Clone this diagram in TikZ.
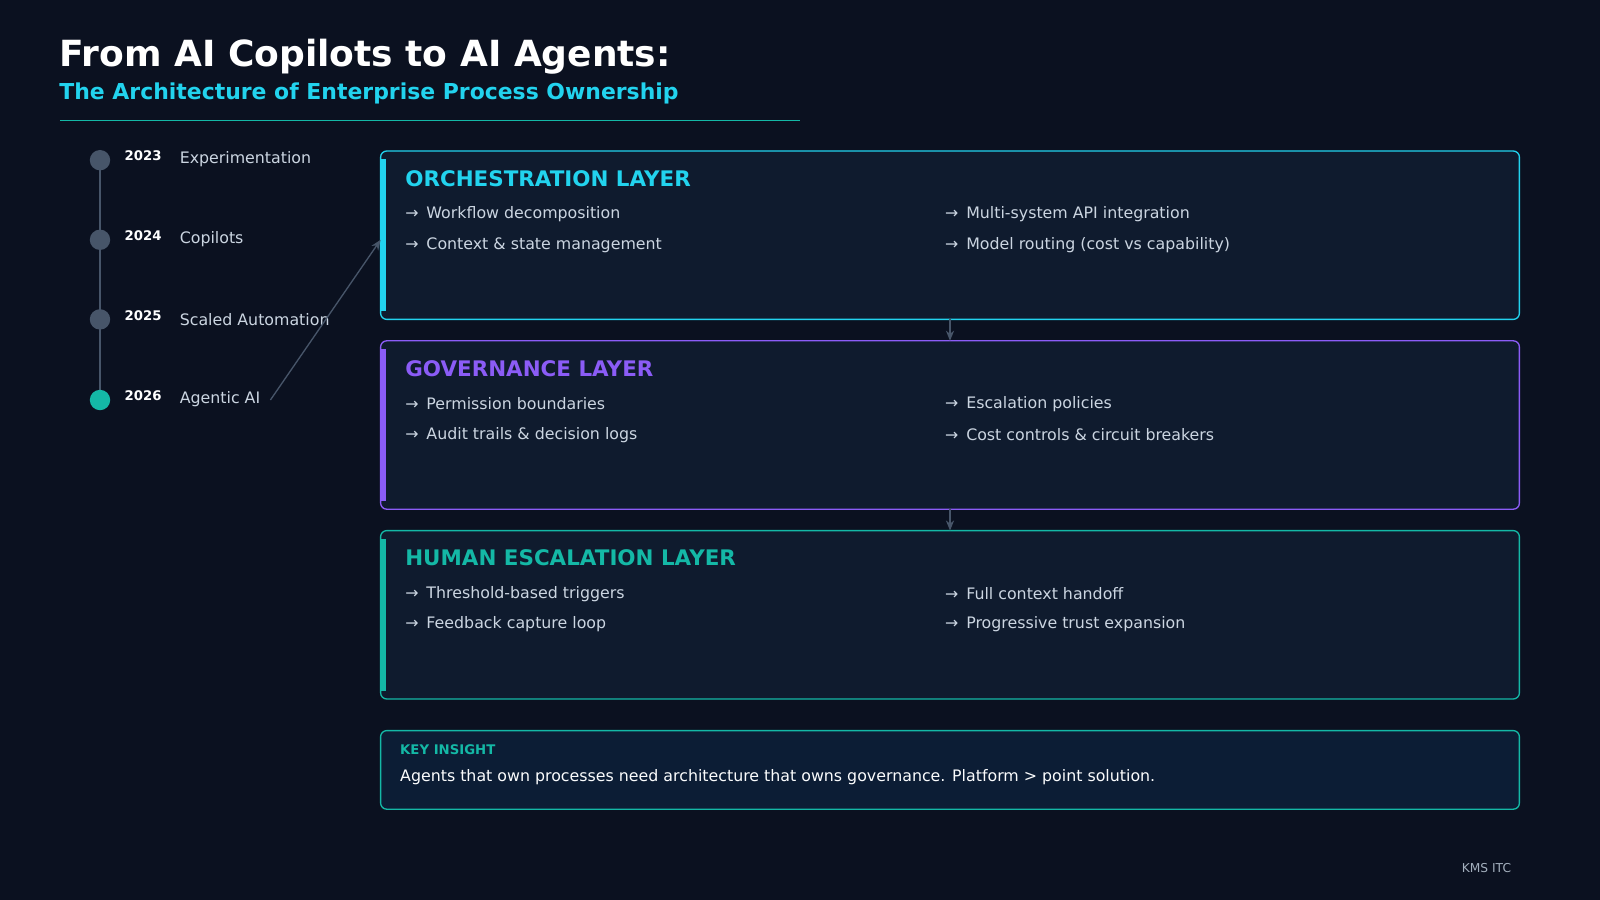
\documentclass[tikz,border=0pt]{standalone}
\usepackage{fontspec}
\setmainfont{DejaVu Sans}
\usetikzlibrary{arrows.meta}
\definecolor{bgc}{HTML}{0B1120}
\definecolor{boxc}{HTML}{0F1B2E}
\definecolor{keyc}{HTML}{0C1D35}
\definecolor{cyanc}{HTML}{22D3EE}
\definecolor{purc}{HTML}{8B5CF6}
\definecolor{tealc}{HTML}{14B8A6}
\definecolor{txtc}{HTML}{CBD5E1}
\definecolor{dotc}{HTML}{475569}
\newcommand{\fs}[1]{\fontsize{#1}{#1}\selectfont}
\begin{document}
\begin{tikzpicture}[x=1pt,y=-1pt,
  every node/.style={inner sep=0pt,anchor=west},
  layer/.style={draw=#1,line width=1.3pt,rounded corners=6pt,fill=boxc},
  head/.style={text=#1,font=\fs{21}\bfseries},
  item/.style={text=txtc,font=\fs{15.5}},
  dot/.style={circle,fill=#1,minimum size=20pt,anchor=center},
  year/.style={text=white,font=\fs{13}\bfseries},
  stage/.style={text=txtc,font=\fs{15.5}},
  link/.style={draw=dotc,line width=1.3pt,-{Stealth[length=10pt,width=8pt]}}]
\useasboundingbox[fill=bgc] (0,0) rectangle (1568,882);
% title
\node[text=white,font=\fs{35.3}\bfseries] (title) at (58,56) {From AI Copilots to AI Agents:};
\node[text=cyanc,font=\fs{21.5}\bfseries] (sub) at (58,92) {The Architecture of Enterprise Process Ownership};
\draw[tealc,line width=1.2pt] (59,118) -- (784,118);
% timeline
\draw[dotc,line width=1.3pt] (98,157) -- (98,392);
\node[dot=dotc] (d1) at (98,157) {};
\node[dot=dotc] (d2) at (98,235) {};
\node[dot=dotc] (d3) at (98,313) {};
\node[dot=tealc] (d4) at (98,392) {};
\node[year] (y1) at (122,153) {2023};
\node[year] (y2) at (122,231) {2024};
\node[year] (y3) at (122,309) {2025};
\node[year] (y4) at (122,388) {2026};
\node[stage] (s1) at (176,156) {Experimentation};
\node[stage] (s2) at (176,234) {Copilots};
\node[stage] (s3) at (176,313) {Scaled Automation};
\node[stage] (s4) at (176,391) {Agentic AI};
% layers
\draw[layer=cyanc] (373,148) rectangle (1489,313);
\draw[layer=purc] (373,334) rectangle (1489,499);
\draw[layer=tealc] (373,520) rectangle (1489,685);
\fill[cyanc] (373,156) rectangle (378,305);
\fill[purc] (373,342) rectangle (378,491);
\fill[tealc] (373,528) rectangle (378,677);
\coordinate (o) at (373,235);
\coordinate (ob) at (931,313);
\coordinate (gt) at (931,334);
\coordinate (gb) at (931,499);
\coordinate (ht) at (931,520);
\coordinate (s4e) at (265,392);
\node[head=cyanc] (oh) at (397,175) {ORCHESTRATION LAYER};
\node[item] at (397,210) {→\enspace Workflow decomposition};
\node[item] at (397,240) {→\enspace Context \& state management};
\node[item] at (926,210) {→\enspace Multi-system API integration};
\node[item] at (926,240) {→\enspace Model routing (cost vs capability)};
\node[head=purc] (gh) at (397,361) {GOVERNANCE LAYER};
\node[item] at (397,396) {→\enspace Permission boundaries};
\node[item] at (397,426) {→\enspace Audit trails \& decision logs};
\node[item] at (926,396) {→\enspace Escalation policies};
\node[item] at (926,426) {→\enspace Cost controls \& circuit breakers};
\node[head=tealc] (hh) at (397,547) {HUMAN ESCALATION LAYER};
\node[item] at (397,582) {→\enspace Threshold-based triggers};
\node[item] at (397,612) {→\enspace Feedback capture loop};
\node[item] at (926,582) {→\enspace Full context handoff};
\node[item] at (926,612) {→\enspace Progressive trust expansion};
\draw[link] (ob) -- (gt);
\draw[link] (gb) -- (ht);
\draw[link] (s4e) -- (o);
% key insight
\draw[draw=tealc,line width=1.3pt,rounded corners=6pt,fill=keyc] (373,716) rectangle (1489,793);
\node[text=tealc,font=\fs{13}\bfseries] (kh) at (392,735) {KEY INSIGHT};
\node[text=white!92!txtc,font=\fs{15.5}] (kt) at (392,762) {Agents that own processes need architecture that owns governance. Platform > point solution.};
\node[text=txtc!70!dotc,font=\fs{12},anchor=east] (kms) at (1481,851) {KMS ITC};
\end{tikzpicture}
\end{document}
